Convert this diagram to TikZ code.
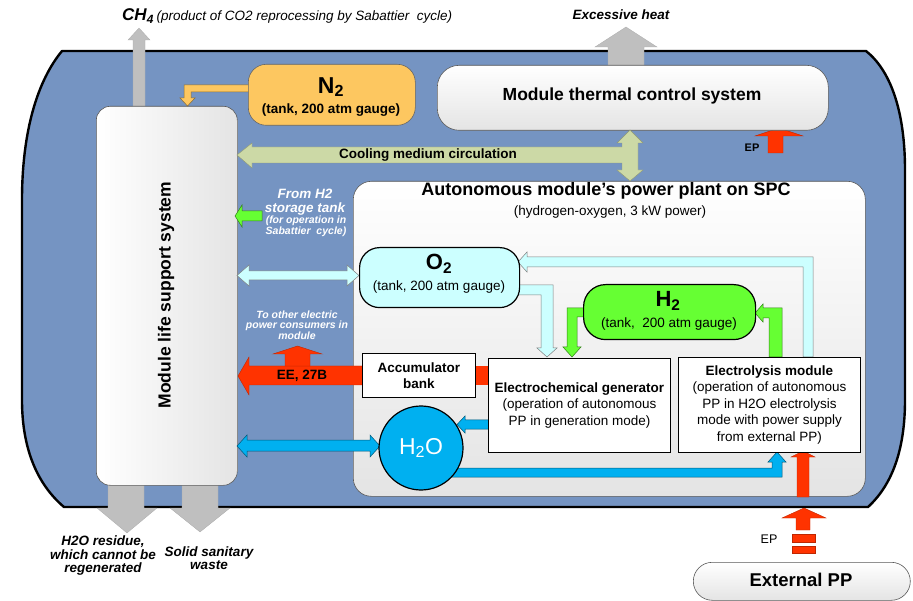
\documentclass[tikz,border=0pt]{standalone}
\usepackage{fontspec}
\setmainfont{Liberation Sans}
\usetikzlibrary{calc}
\definecolor{hull}{RGB}{117,148,194}
\definecolor{ntank}{RGB}{253,199,96}
\definecolor{otank}{RGB}{204,255,255}
\definecolor{htank}{RGB}{102,255,51}
\definecolor{water}{RGB}{0,176,240}
\definecolor{epred}{RGB}{255,51,0}
\definecolor{cool}{RGB}{204,217,166}
\definecolor{grayarr}{RGB}{191,191,191}
\definecolor{boxgray}{RGB}{228,228,228}
\newcommand\fsz[2]{\fontsize{#1}{#2}\selectfont}
\begin{document}
\begin{tikzpicture}[x=1pt,y=-1pt,
  hullstyle/.style={fill=hull,draw=black,line width=2.4pt,line join=round},
  grayarrow/.style={fill=grayarr,draw=grayarr!90!black,line width=0.3pt},
  redarrow/.style={fill=epred,draw=epred!75!black,line width=0.4pt},
  bluearrow/.style={fill=water,draw=water!50!black,line width=0.5pt},
  cyanarrow/.style={fill=otank,draw=black!50,line width=0.5pt},
  greenarrow/.style={fill=htank,draw=htank!50!black,line width=0.5pt},
  orangearrow/.style={fill=ntank,draw=ntank!55!black,line width=0.5pt},
  coolarrow/.style={fill=cool,draw=cool!70!black,line width=0.4pt},
  panel/.style={draw=black!65,line width=0.6pt,inner sep=0pt,anchor=north west},
  tank/.style={draw=black,line width=1.2pt,inner sep=0pt,anchor=north west},
  plainbox/.style={draw=black,line width=0.9pt,fill=white,inner sep=0pt,anchor=north west,align=center},
  txt/.style={inner sep=0pt,align=center},
  wtxt/.style={inner sep=0pt,align=center,text=white},
]
\useasboundingbox (0,0) rectangle (913,601);

% hull of the module
\draw[hullstyle] (62,51) -- (866,51) .. controls (890,70) and (905,110) .. (905,170)
  -- (905,400) .. controls (905,450) and (892,485) .. (868,507)
  -- (64,507) .. controls (38,485) and (22,450) .. (22,400)
  -- (22,200) .. controls (22,130) and (38,80) .. (62,51) -- cycle;

% gray outflow arrows
\draw[grayarrow] (133,110) -- (133,40) -- (128,40) -- (139,28) -- (150,40) -- (145,40) -- (145,110) -- cycle;
\draw[grayarrow] (608,70) -- (608,47) -- (595,47) -- (626,27) -- (657,47) -- (644,47) -- (644,70) -- cycle;
\draw[grayarrow] (108,480) -- (108,508) -- (97,508) -- (127,533) -- (157,508) -- (144,508) -- (144,480) -- cycle;
\draw[grayarrow] (182,480) -- (182,508) -- (170,508) -- (200,532) -- (230,508) -- (218,508) -- (218,480) -- cycle;

% life support system
\node[panel,rounded corners=14pt,left color=white,right color=boxgray,minimum width=141pt,minimum height=379pt] (lss) at (96,106) {};
\node[txt,rotate=90,font=\fsz{17.5}{20}\bfseries] (lsstext) at (166,295) {Module life support system};

% N2 tank and its arrow
\draw[orangearrow] (250,85) -- (184,85) -- (184,98) -- (180,98) -- (187.5,106) -- (195,98) -- (191,98) -- (191,92) -- (250,92) -- cycle;
\node[panel,draw=black!60,fill=ntank,rounded corners=18pt,minimum width=167pt,minimum height=61pt] (n2) at (248,64) {};
\node[txt,font=\fsz{23}{25}\bfseries] (n2a) at (331,87) {N\textsubscript{2}};
\node[txt,font=\fsz{13.5}{15}\bfseries] (n2b) at (331,110) {(tank, 200 atm gauge)};

% thermal control
\draw[redarrow] (768,153) -- (768,136) -- (755,136) -- (779,128) -- (803,136) -- (783,136) -- (783,153) -- cycle;
\node[panel,rounded corners=22pt,top color=white,bottom color=boxgray,minimum width=391pt,minimum height=65pt] (tcs) at (437,65) {};
\node[txt,font=\fsz{17.5}{20}\bfseries] (tcstext) at (632,96) {Module thermal control system};
\node[txt,font=\fsz{11}{12}\bfseries] (eptop) at (752,148) {EP};

% power plant panel
\node[panel,rounded corners=18pt,top color=white,bottom color=boxgray,minimum width=512pt,minimum height=315pt] (pp) at (353,181) {};
\node[txt,font=\fsz{18}{20}\bfseries] (pptitle) at (606,191) {Autonomous module’s power plant on SPC};
\node[txt,font=\fsz{13.5}{15}] (ppsub) at (610,212) {(hydrogen-oxygen, 3 kW power)};

% cooling medium circulation
\draw[coolarrow] (237,155) -- (252,143) -- (252,147) -- (622,147) -- (622,143) -- (617,143) -- (630,130)
  -- (643,143) -- (638,143) -- (638,170) -- (643,170) -- (630,181) -- (617,170) -- (622,170)
  -- (622,163) -- (252,163) -- (252,168) -- cycle;
\node[txt,font=\fsz{13.5}{15}\bfseries] (cooltext) at (428,155) {Cooling medium circulation};

% from H2 storage tank
\draw[greenarrow] (262,211) -- (242,211) -- (242,205) -- (235,216) -- (242,227) -- (242,221) -- (262,221) -- cycle;
\node[wtxt,font=\fsz{13.5}{15}\bfseries\itshape] (fromA) at (305,194) {From H2};
\node[wtxt,font=\fsz{13.5}{15}\bfseries\itshape] (fromB) at (305,209) {storage tank};
\node[wtxt,font=\fsz{10.5}{12}\bfseries\itshape] (fromC) at (306,221) {(for operation in};
\node[wtxt,font=\fsz{10.5}{12}\bfseries\itshape] (fromD) at (306,232) {Sabattier\ \ cycle)};

% to other consumers
\node[wtxt,font=\fsz{10.5}{10.5}\bfseries\itshape] (toother) at (297,325) {To other electric\\power consumers in\\module};

% O2 links
\draw[cyanarrow] (237,275.5) -- (249,265) -- (249,271) -- (347,271) -- (347,265) -- (359,275.5) -- (347,286) -- (347,280) -- (249,280) -- (249,286) -- cycle;
\draw[cyanarrow] (803,357) -- (803,267) -- (527,267) -- (527,272) -- (518,262) -- (527,252) -- (527,257) -- (813,257) -- (813,357) -- cycle;
\draw[cyanarrow] (515,285) -- (553,285) -- (553,348) -- (557,348) -- (547,357) -- (537,348) -- (541,348) -- (541,295) -- (515,295) -- cycle;

% H2 links
\draw[greenarrow] (587,308) -- (567,308) -- (567,347) -- (563,347) -- (572,357) -- (581,347) -- (577,347) -- (577,317) -- (587,317) -- cycle;
\draw[greenarrow] (769,357) -- (769,318) -- (763,318) -- (763,322) -- (755,313) -- (763,304) -- (763,308) -- (782,308) -- (782,357) -- cycle;

% electric energy
\draw[redarrow] (238,376) -- (249,357) -- (249,366) -- (364,366) -- (364,385) -- (249,385) -- (249,395) -- cycle;
\draw[redarrow] (285,366) -- (285,354) -- (273,354) -- (297.5,346) -- (322,354) -- (310,354) -- (310,366) -- cycle;
\fill[epred] (473,366) rectangle (490,385);
\node[txt,font=\fsz{13.5}{15}\bfseries] (eetext) at (302,376) {EE, 27B};

% water links
\draw[bluearrow] (237,446) -- (247,435) -- (247,440) -- (370,440) -- (370,435) -- (380,446) -- (370,457) -- (370,451) -- (247,451) -- (247,457) -- cycle;
\draw[bluearrow] (490,420) -- (465,420) -- (465,416) -- (457,424.5) -- (465,433) -- (465,429) -- (490,429) -- cycle;
\draw[bluearrow] (450,468) -- (772,468) -- (772,462) -- (768,462) -- (777,452) -- (786,462) -- (782,462) -- (782,477) -- (450,477) -- cycle;
\draw[redarrow] (797,497) -- (797,457) -- (791,457) -- (803,451) -- (815,457) -- (809,457) -- (809,497) -- cycle;

% tanks and boxes
\node[tank,fill=otank,rounded corners=20pt,minimum width=160pt,minimum height=60pt] (o2) at (359,247) {};
\node[txt,font=\fsz{22}{24}\bfseries] (o2a) at (439,264) {O\textsubscript{2}};
\node[txt,font=\fsz{13.5}{15}] (o2b) at (439,287) {(tank, 200 atm gauge)};

\node[tank,fill=htank,rounded corners=22pt,minimum width=172pt,minimum height=55pt] (h2) at (583,284) {};
\node[txt,font=\fsz{22}{24}\bfseries] (h2a) at (668,301) {H\textsubscript{2}};
\node[txt,font=\fsz{13.5}{15}] (h2b) at (669,324) {(tank,\ \ 200 atm gauge)};

\node[plainbox,minimum width=113pt,minimum height=44pt,font=\fsz{13.5}{15.5}\bfseries] (acc) at (362,353) {Accumulator\\bank};
\node[plainbox,minimum width=182pt,minimum height=94pt,font=\fsz{13.5}{16.5}] (ecg) at (488,358)
  {{\bfseries Electrochemical generator}\\(operation of autonomous\\PP in generation mode)};
\node[plainbox,minimum width=182pt,minimum height=95pt,font=\fsz{13.5}{16.5}] (elm) at (678,357)
  {{\bfseries Electrolysis module}\\(operation of autonomous\\PP in H2O electrolysis\\mode with power supply\\from external PP)};

\node[circle,draw=black,line width=1.2pt,fill=water,minimum size=84pt,inner sep=0pt,text=white,font=\fsz{23}{25}] (h2o) at (421,448) {H\textsubscript{2}O};

% external power
\draw[redarrow] (796,530) -- (796,518) -- (782,518) -- (804,508) -- (826,518) -- (810,518) -- (810,530) -- cycle;
\draw[redarrow] (792,534) rectangle (815,542);
\draw[redarrow] (792,546) rectangle (815,553);
\node[txt,font=\fsz{12.5}{14}] (epbot) at (769,539) {EP};
\node[panel,rounded corners=19pt,top color=white,bottom color=boxgray,minimum width=217pt,minimum height=38pt] (ext) at (693,562) {};
\node[txt,font=\fsz{18.5}{20}\bfseries] (exttext) at (801,580) {External PP};

% outside labels
\node[txt,anchor=base west] (ch4) at (122,21) {{\fsz{17}{19}\bfseries\itshape CH\textsubscript{4}} {\fsz{13.5}{15}\itshape (product of CO2 reprocessing by Sabattier\ \ cycle)}};
\node[txt,font=\fsz{13.5}{15}\bfseries\itshape] (heat) at (621,15) {Excessive heat};
\node[txt,font=\fsz{13.5}{13.5}\bfseries\itshape] (residue) at (103,556) {H2O residue,\\which cannot be\\regenerated};
\node[txt,font=\fsz{13.5}{13.5}\bfseries\itshape] (waste) at (209,558) {Solid sanitary\\waste};
\end{tikzpicture}
\end{document}
